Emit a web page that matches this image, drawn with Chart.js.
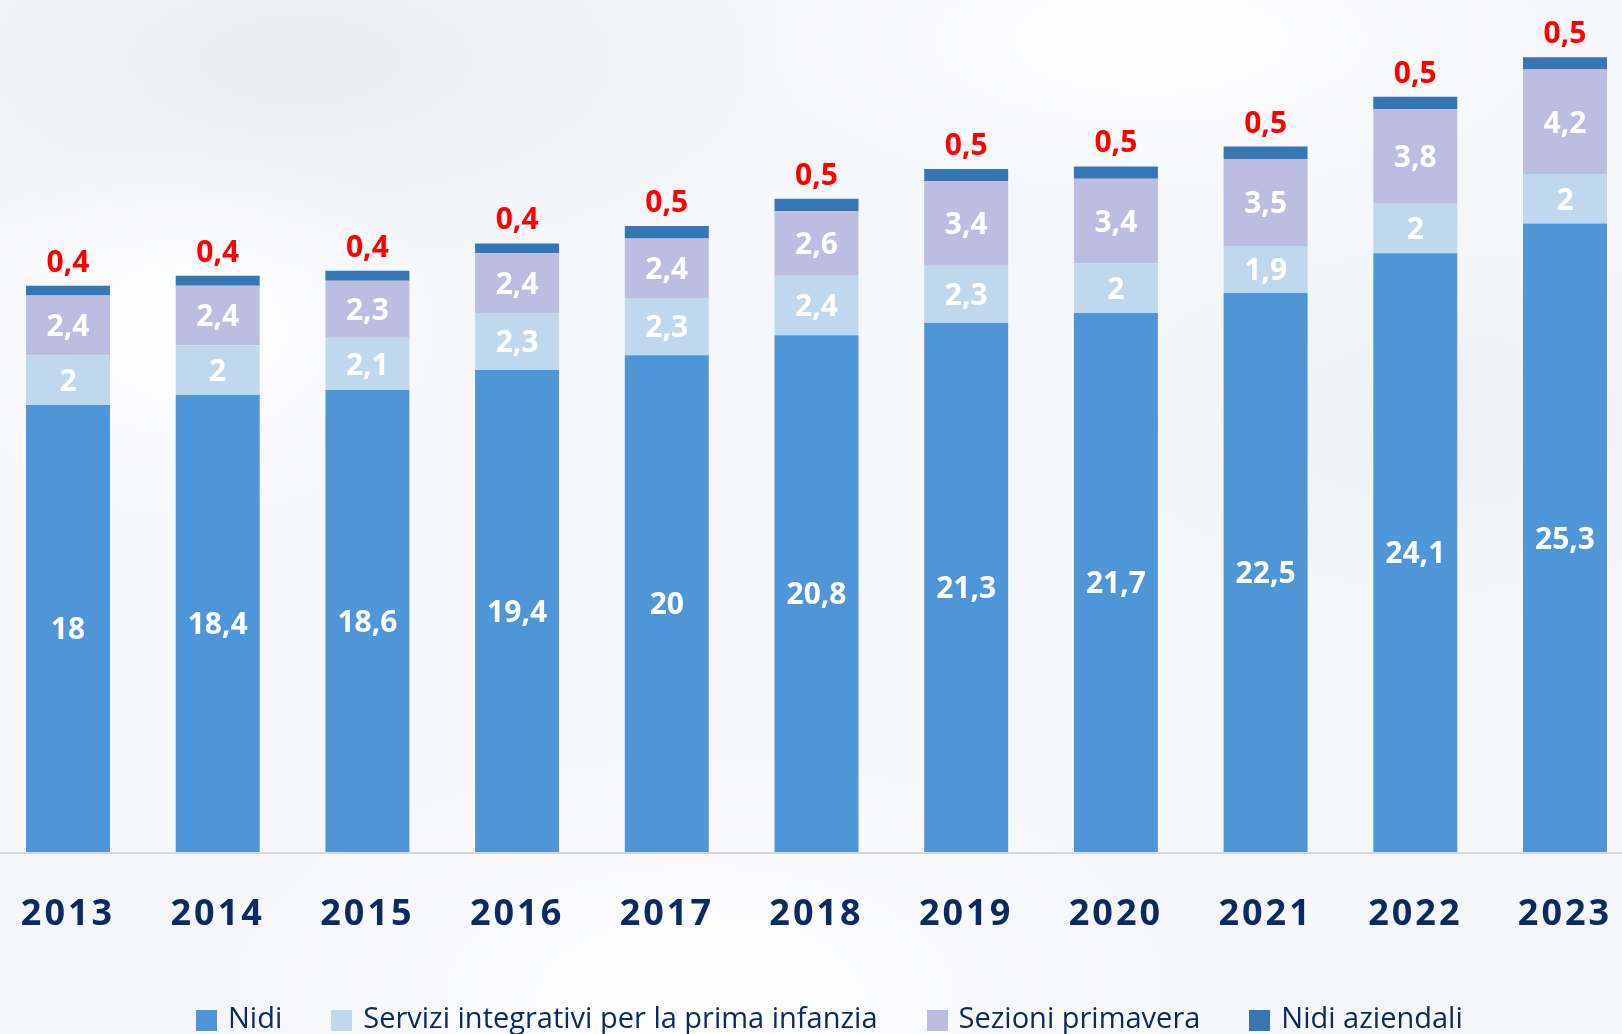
<!DOCTYPE html>
<html lang="it">
<head>
<meta charset="utf-8">
<title>Posti nei servizi per la prima infanzia</title>
<script src="https://cdn.jsdelivr.net/npm/chart.js@4.4.1/dist/chart.umd.min.js"></script>
<style>
  html, body { margin: 0; padding: 0; }
  body {
    width: 1622px; height: 1034px; overflow: hidden; position: relative;
    background:
      radial-gradient(ellipse 260px 200px at 190px 330px, rgba(255,255,255,0.95), rgba(255,255,255,0) 100%),
      radial-gradient(ellipse 420px 160px at 1150px 40px, rgba(255,255,255,0.9), rgba(255,255,255,0) 100%),
      radial-gradient(ellipse 500px 260px at 700px 1000px, rgba(255,255,255,0.9), rgba(255,255,255,0) 100%),
      radial-gradient(ellipse 500px 220px at 300px 60px, rgba(232,235,242,0.9), rgba(232,235,242,0) 100%),
      radial-gradient(ellipse 400px 200px at 1450px 420px, rgba(236,238,244,0.8), rgba(236,238,244,0) 100%),
      #f6f7fa;
  }
  #wrap { position: absolute; left: 0; top: 0; width: 1622px; height: 1034px; }
  #legend {
    position: absolute; left: 196px; top: 1000px;
    display: flex; align-items: flex-start;
    font-family: 'Liberation Sans Narrow', 'Open Sans', sans-serif;
    font-size: 29px; line-height: 34px; color: #0c2a62; white-space: nowrap;
  }
  #legend .item { display: flex; align-items: flex-start; margin-right: 49px; }
  #legend .box { width: 21px; height: 21px; margin-top: 10px; margin-right: 11px; }
</style>
</head>
<body>
<div id="wrap"><canvas id="c" width="1622" height="1034"></canvas></div>
<div id="legend"></div>
<script>
const years = ['2013','2014','2015','2016','2017','2018','2019','2020','2021','2022','2023'];
const nidi      = [18, 18.4, 18.6, 19.4, 20, 20.8, 21.3, 21.7, 22.5, 24.1, 25.3];
const servizi   = [2, 2, 2.1, 2.3, 2.3, 2.4, 2.3, 2, 1.9, 2, 2];
const sezioni   = [2.4, 2.4, 2.3, 2.4, 2.4, 2.6, 3.4, 3.4, 3.5, 3.8, 4.2];
const aziendali = [0.4, 0.4, 0.4, 0.4, 0.5, 0.5, 0.5, 0.5, 0.5, 0.5, 0.5];
const seriesNames = ['Nidi', 'Servizi integrativi per la prima infanzia', 'Sezioni primavera', 'Nidi aziendali'];
const seriesColors = ['#4f96d8', '#c0d8ee', '#bbbde1', '#3477b4'];

const fmt = v => String(v).replace('.', ',');
const VALUE_FONT = '700 30px "Open Sans", "Liberation Sans", sans-serif';

const overlay = {
  id: 'overlay',
  beforeDraw(chart) {
    chart.ctx.letterSpacing = '3px';
  },
  afterDatasetsDraw(chart) {
    const ctx = chart.ctx;
    ctx.save();
    ctx.letterSpacing = '0px';
    const y0 = chart.scales.y.getPixelForValue(0);
    ctx.strokeStyle = '#d5d7db';
    ctx.lineWidth = 2;
    ctx.beginPath();
    ctx.moveTo(0, y0 + 1);
    ctx.lineTo(chart.width, y0 + 1);
    ctx.stroke();
    ctx.textAlign = 'center';
    ctx.textBaseline = 'alphabetic';
    ctx.font = VALUE_FONT;
    chart.data.datasets.forEach((ds, di) => {
      const meta = chart.getDatasetMeta(di);
      meta.data.forEach((bar, i) => {
        const txt = fmt(ds.data[i]);
        if (di === 3) {
          ctx.fillStyle = '#ff0000';
          ctx.fillText(txt, bar.x, bar.y - 14);
        } else {
          const mid = (bar.y + bar.base) / 2;
          ctx.fillStyle = '#ffffff';
          ctx.fillText(txt, bar.x, mid + 10.8);
        }
      });
    });
    ctx.restore();
  }
};

const seriesData = [nidi, servizi, sezioni, aziendali];
const datasets = seriesData.map((d, i) => ({
  label: seriesNames[i],
  data: d,
  backgroundColor: seriesColors[i],
  borderWidth: 0,
  barPercentage: 0.561,
  categoryPercentage: 1,
  clip: false
}));

new Chart(document.getElementById('c'), {
  type: 'bar',
  data: { labels: years, datasets },
  options: {
    responsive: false,
    animation: false,
    layout: { padding: { left: 68, right: 57, top: 0, bottom: 102 } },
    plugins: { legend: { display: false }, tooltip: { enabled: false } },
    scales: {
      x: {
        stacked: true,
        offset: false,
        grid: { display: false, drawTicks: false },
        border: { display: false },
        afterFit(scale) {
          scale.paddingLeft = 0;
          scale.paddingRight = 0;
          scale.height = 80;
        },
        ticks: {
          autoSkip: false, maxRotation: 0, padding: 41,
          color: '#0c2a62',
          font: { family: '"Open Sans", "Liberation Sans", sans-serif', size: 36, weight: '700' }
        }
      },
      y: {
        stacked: true, display: false, min: 0, max: 34.3,
        grid: { display: false }
      }
    }
  },
  plugins: [overlay]
});

const legend = document.getElementById('legend');
seriesNames.forEach((name, i) => {
  const item = document.createElement('div');
  item.className = 'item';
  const box = document.createElement('span');
  box.className = 'box';
  box.style.background = seriesColors[i];
  const t = document.createElement('span');
  t.textContent = name;
  item.appendChild(box); item.appendChild(t);
  legend.appendChild(item);
});
</script>
</body>
</html>
